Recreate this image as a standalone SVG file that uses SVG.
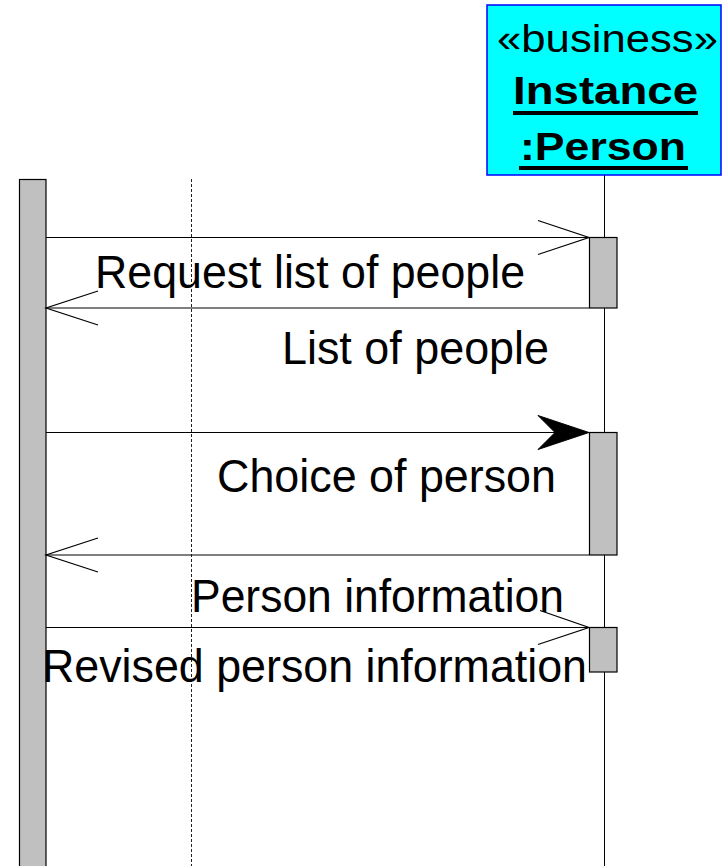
<svg xmlns="http://www.w3.org/2000/svg" width="726" height="866" viewBox="0 0 726 866">
  <style>
    .msg { font-family: "Liberation Sans", Arial, sans-serif; font-size: 46px; fill: #000; }
    .hdr { font-family: "Liberation Sans", Arial, sans-serif; font-size: 38px; fill: #000; }
    .bold { font-weight: bold; }
    .bar { fill: #c0c0c0; stroke: #000; stroke-width: 1.2; }
    .line { stroke: #000; stroke-width: 1.2; fill: none; }
    .life { stroke: #000; stroke-width: 1; fill: none; }
    .dotted { stroke: #222; stroke-width: 1; stroke-dasharray: 3 2; fill: none; }
  </style>

  <rect width="726" height="866" fill="#fff"/>

  <!-- lifelines -->
  <g id="lifelines">
    <line class="dotted" x1="191.5" y1="179" x2="191.5" y2="866"/>
    <line class="life" x1="604.5" y1="175" x2="604.5" y2="866"/>
  </g>

  <!-- actor activation bar on the left -->
  <g id="actor">
    <rect class="bar" x="19.5" y="179.5" width="26.5" height="700"/>
  </g>

  <!-- business instance header -->
  <g id="person">
    <rect x="487" y="5" width="234" height="170" fill="#00ffff" stroke="#0000ff" stroke-width="1.5"/>
    <text class="hdr" x="497" y="52" textLength="221" lengthAdjust="spacingAndGlyphs">«business»</text>
    <text class="hdr bold" x="513" y="104" textLength="185" lengthAdjust="spacingAndGlyphs">Instance</text>
    <rect x="513" y="111" width="185" height="4" fill="#000"/>
    <text class="hdr bold" x="520" y="160" textLength="166" lengthAdjust="spacingAndGlyphs">:Person</text>
    <rect x="519" y="166" width="169" height="4" fill="#000"/>
  </g>

  <!-- activations on the instance lifeline -->
  <g id="activation-1"><rect class="bar" x="589.5" y="237.5" width="27.5" height="70.5"/></g>
  <g id="activation-2"><rect class="bar" x="589.5" y="432.5" width="27.5" height="122.5"/></g>
  <g id="activation-3"><rect class="bar" x="589.5" y="627.5" width="27.5" height="44.5"/></g>

  <!-- messages -->
  <g id="connectors">
    <line class="line" x1="46" y1="237.5" x2="589" y2="237.5"/>
    <polyline class="line" points="538,220.5 589,237.5 538,254.5"/>

    <line class="line" x1="589" y1="308" x2="46" y2="308"/>
    <polyline class="line" points="98,291 46,308 98,325"/>

    <line class="line" x1="46" y1="432.5" x2="560" y2="432.5"/>
    <polygon points="589,432.5 538,415.5 555,432.5 538,449.5" fill="#000" stroke="#000" stroke-width="1"/>

    <line class="line" x1="589" y1="555" x2="46" y2="555"/>
    <polyline class="line" points="98,538 46,555 98,572"/>

    <line class="line" x1="46" y1="627.5" x2="589" y2="627.5"/>
    <polyline class="line" points="540,610.5 589,627.5 538,644.5"/>
  </g>

  <!-- message labels -->
  <g id="labels">
    <text class="msg" x="95" y="288" textLength="430" lengthAdjust="spacingAndGlyphs">Request list of people</text>
    <text class="msg" x="282" y="364" textLength="267" lengthAdjust="spacingAndGlyphs">List of people</text>
    <text class="msg" x="217" y="492" textLength="339" lengthAdjust="spacingAndGlyphs">Choice of person</text>
    <text class="msg" x="191" y="612" textLength="373" lengthAdjust="spacingAndGlyphs">Person information</text>
    <text class="msg" x="42" y="682" textLength="545" lengthAdjust="spacingAndGlyphs">Revised person information</text>
  </g>
</svg>
